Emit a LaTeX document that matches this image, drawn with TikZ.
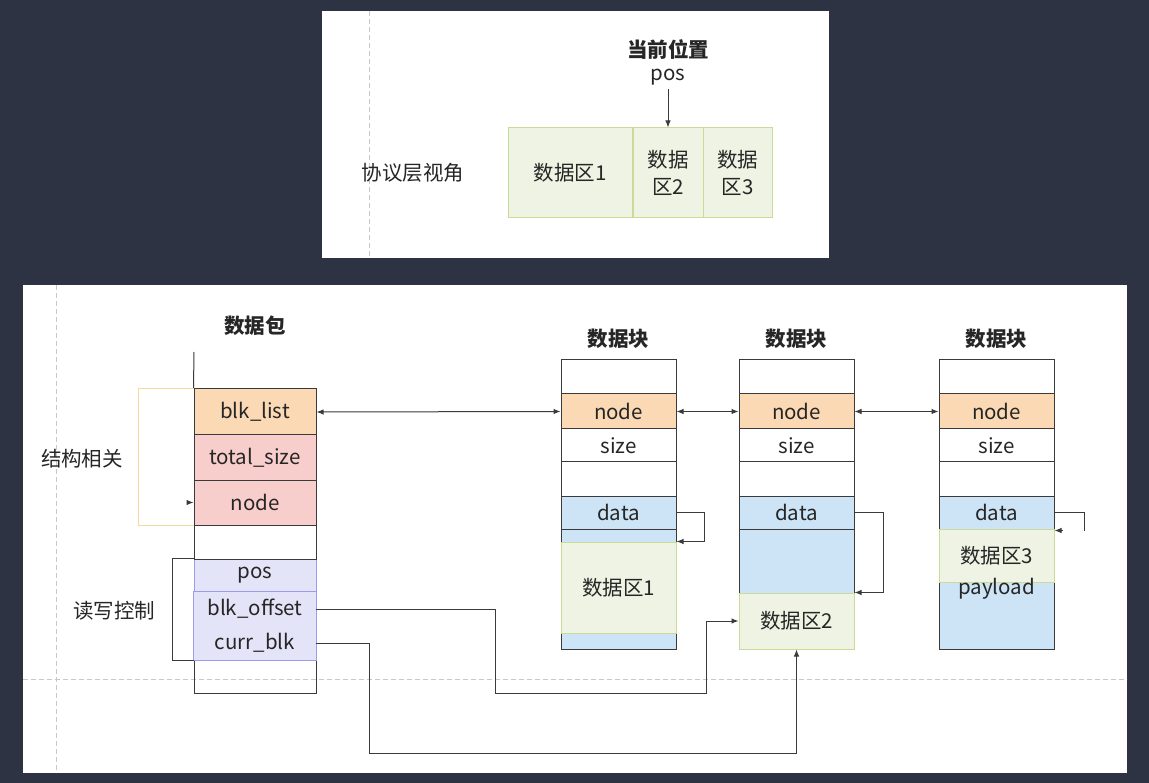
\documentclass[tikz,border=0pt]{standalone}
\usepackage{fontspec}
\setmainfont{Noto Sans CJK SC}
\usetikzlibrary{shapes,arrows,arrows.meta,positioning,calc}
\definecolor{bgdark}{HTML}{2D3342}
\definecolor{peach}{HTML}{FAD9B4}
\definecolor{pinkfill}{HTML}{F8CECC}
\definecolor{lavfill}{HTML}{E4E4F8}
\definecolor{lavline}{HTML}{9C9CEE}
\definecolor{bluefill}{HTML}{CCE4F5}
\definecolor{zonefill}{HTML}{EEF3E3}
\definecolor{zoneline}{HTML}{CCDA98}
\definecolor{yelline}{HTML}{F3DC9E}
\definecolor{guidegray}{HTML}{C8C8C8}
\definecolor{inkline}{HTML}{3A3A3A}
\definecolor{inktext}{HTML}{262626}

\begin{document}
\begin{tikzpicture}[x=1pt, y=-1pt,
  every node/.style={font=\fontsize{20.5}{26}\selectfont, text=inktext},
  titletext/.style={font=\fontsize{20.5}{26}\selectfont\bfseries},
  cellbox/.style={draw=inkline, line width=1pt, rectangle, inner sep=0pt},
  zonecell/.style={draw=zoneline, fill=zonefill, line width=1pt, rectangle, inner sep=0pt},
  lavcell/.style={draw=lavline, fill=lavfill, line width=1pt, rectangle, inner sep=0pt},
  conn/.style={draw=inkline, line width=1pt},
  guideline/.style={draw=guidegray, line width=1pt, dash pattern=on 5pt off 3pt},
  >={Latex[length=7pt, width=5.5pt]}]
\useasboundingbox (0,0) rectangle (1149,783);
\fill[bgdark] (0,0) rectangle (1149,783);
\fill[white] (322,11) rectangle (829,258);
\fill[white] (23,285) rectangle (1127,773);
\draw[guideline] (369,11) -- (369,258);
\draw[guideline] (56,285) -- (56,773);
\draw[guideline] (23,679) -- (1127,679);
%============ protocol view
\node (view) at (413,173) {协议层视角};
\node[zonecell, minimum width=124pt, minimum height=90pt] (tz1) at (570,173) {数据区1};
\node[zonecell, minimum width=70pt, minimum height=90pt, align=center, font=\fontsize{20.5}{27}\selectfont] (tz2) at (668,173) {数据\\区2};
\node[zonecell, minimum width=69pt, minimum height=90pt, align=center, font=\fontsize{20.5}{27}\selectfont] (tz3) at (737.5,173) {数据\\区3};
\node[titletext] (curname) at (668,50) {当前位置};
\node (curpos) at (668,77) {pos};
\draw[->, conn] (curpos) -- (tz2);
%============ packet
\node[titletext] (ptitle) at (255,326) {数据包};
\coordinate (ptop) at (194,352);
\node[cellbox, fill=peach, minimum width=122pt, minimum height=46pt] (blklist) at (255,412) {blk\_list};
\node[cellbox, fill=pinkfill, minimum width=122pt, minimum height=45pt] (totsize) at (255,457.5) {total\_size};
\node[cellbox, fill=pinkfill, minimum width=122pt, minimum height=45pt] (pnode) at (255,502.5) {node};
\node[lavcell, minimum width=122pt, minimum height=33pt] (ppos) at (255,575.5) {pos};
\node[fill=lavfill, inner sep=0pt, minimum width=122pt, minimum height=34pt] (boff) at (255,609) {blk\_offset};
\node[fill=lavfill, inner sep=0pt, minimum width=122pt, minimum height=34pt] (cblk) at (255,643) {curr\_blk};
\node[cellbox, minimum width=122pt, minimum height=33pt] (pend) at (255,676.5) {};
\draw[lavline, line width=1pt] (boff.north west) rectangle (cblk.south east);
\node[cellbox, minimum width=122pt, minimum height=34pt] (pgap) at (255,542) {};
\draw[conn] (ptop) -- (blklist.north west);
%============ brackets
\draw[yelline, line width=1pt] (blklist.north west) -- ++(-55,0) |- (pnode.south west);
\draw[->, conn] ($(pnode.west)+(-7,0)$) -- (pnode.west);
\node (lstruct) at (82,459) {结构相关};
\draw[conn] (ppos.north west) -- ++(-21,0) |- (cblk.south west);
\node (lrw) at (114,611) {读写控制};
%============ block 1
\node[titletext] (b1title) at (618.5,339) {数据块};
\node[cellbox, minimum width=115pt, minimum height=34pt] (b1top) at (618.5,377) {};
\node[cellbox, fill=peach, minimum width=115pt, minimum height=35pt] (b1node) at (618.5,411.5) {node};
\node[cellbox, minimum width=115pt, minimum height=33pt] (b1size) at (618.5,445.5) {size};
\node[cellbox, minimum width=115pt, minimum height=34pt] (b1gap) at (618.5,479) {};
\node[cellbox, fill=bluefill, minimum width=115pt, minimum height=33pt] (b1data) at (618.5,512.5) {data};
\node[cellbox, fill=bluefill, minimum width=115pt, minimum height=120pt] (b1rest) at (618.5,589) {};
\node[zonecell, minimum width=115pt, minimum height=91pt] (b1zone) at (618.5,587.5) {数据区1};
%============ block 2
\node[titletext] (b2title) at (796.5,339) {数据块};
\node[cellbox, minimum width=115pt, minimum height=34pt] (b2top) at (796.5,377) {};
\node[cellbox, fill=peach, minimum width=115pt, minimum height=35pt] (b2node) at (796.5,411.5) {node};
\node[cellbox, minimum width=115pt, minimum height=33pt] (b2size) at (796.5,445.5) {size};
\node[cellbox, minimum width=115pt, minimum height=34pt] (b2gap) at (796.5,479) {};
\node[cellbox, fill=bluefill, minimum width=115pt, minimum height=33pt] (b2data) at (796.5,512.5) {data};
\node[cellbox, fill=bluefill, minimum width=115pt, minimum height=120pt] (b2rest) at (796.5,589) {};
\node[zonecell, minimum width=115pt, minimum height=56pt] (b2zone) at (796.5,621) {数据区2};
%============ block 3
\node[titletext] (b3title) at (996.5,339) {数据块};
\node[cellbox, minimum width=115pt, minimum height=34pt] (b3top) at (996.5,377) {};
\node[cellbox, fill=peach, minimum width=115pt, minimum height=35pt] (b3node) at (996.5,411.5) {node};
\node[cellbox, minimum width=115pt, minimum height=33pt] (b3size) at (996.5,445.5) {size};
\node[cellbox, minimum width=115pt, minimum height=34pt] (b3gap) at (996.5,479) {};
\node[cellbox, fill=bluefill, minimum width=115pt, minimum height=33pt] (b3data) at (996.5,512.5) {data};
\node[cellbox, fill=bluefill, minimum width=115pt, minimum height=120pt] (b3rest) at (996.5,589) {};
\node[zonecell, minimum width=115pt, minimum height=53pt] (b3zone) at (996.5,555.5) {数据区3};
\node (b3pay) at (996.5,589) {payload};
%============ links
\draw[<->, conn] (blklist.east) -- (b1node.west);
\draw[<->, conn] (b1node.east) -- (b2node.west);
\draw[<->, conn] (b2node.east) -- (b3node.west);
\draw[->, conn] (b1data.east) -- ++(28,0) |- (b1zone.north east);
\draw[->, conn] (b2data.east) -- ++(29,0) |- (b2zone.north east);
\draw[conn] (b3data.east) -- ++(30,0) -- ++(0,18);
\draw[->, conn] ($(b3zone.north east)+(8,2)$) -- ($(b3zone.north east)+(0,2)$);
\draw[->, conn] (boff.east) -| (495,693) -| ($(b2zone.west)+(-32,0)$) -- (b2zone.west);
\draw[->, conn] (cblk.east) -| (369,753) -| (b2zone.south);
\end{tikzpicture}
\end{document}
